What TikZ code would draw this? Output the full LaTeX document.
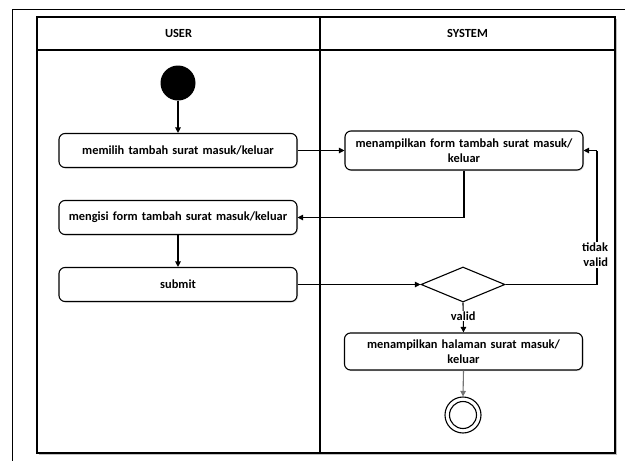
\documentclass[tikz,border=0pt]{standalone}
\usepackage{fontspec}
\setmainfont{Carlito}
\usetikzlibrary{shapes.geometric,arrows.meta,shadows}
\begin{document}
\begin{tikzpicture}[x=1pt,y=-1pt,
  font=\bfseries\fontsize{12.4}{15}\selectfont,
  flow/.style={line width=1.1pt,-{Triangle[length=5.5pt,width=5.5pt]}},
  act/.style={draw,line width=1.1pt,rounded corners=6pt,fill=white,
    minimum width=238pt,text width=236pt,inner xsep=1pt,align=center,
    drop shadow={shadow xshift=1pt,shadow yshift=-1pt,opacity=0.25}},
  dec/.style={draw,diamond,line width=1.1pt,fill=white,aspect=2.4,
    minimum width=84pt,minimum height=35pt,inner sep=0pt},
  lbl/.style={fill=white,inner sep=1pt,align=right}]
\useasboundingbox (0,0) rectangle (625,461);
% outer page frame
\draw[line width=0.7pt] (12,470) -- (12,9.5) -- (640,9.5);
% swimlanes
\fill[black!25] (39,19) rectangle (617,455);
\draw[line width=1.4pt,fill=white] (37,17) rectangle (615,453);
\draw[line width=1.4pt] (37,50) -- (615,50);
\draw[line width=1.4pt] (320,17) -- (320,453);
\node (huser) at (178.5,33.5) {USER};
\node (hsys) at (467.5,33.5) {SYSTEM};
% activities
\node[circle,fill=black,minimum size=35pt,inner sep=0pt] (start) at (178,83) {};
\node[act,minimum height=34pt] (pilih) at (178,150.5) {memilih tambah surat masuk/keluar};
\node[act,minimum height=39pt] (form) at (464,150.5) {menampilkan form tambah surat masuk/\\keluar};
\node[act,minimum height=34pt] (isi) at (178,217.5) {mengisi form tambah surat masuk/keluar};
\node[act,minimum height=34pt] (submit) at (178,284.5) {submit};
\node[dec] (cek) at (463,284.5) {};
\node[act,minimum height=37pt] (hal) at (463.5,351.5) {menampilkan halaman surat masuk/\\keluar};
\node[circle,draw,line width=1.1pt,minimum size=36pt,inner sep=0pt] (end) at (463,415) {};
\node[circle,draw,line width=1.1pt,minimum size=27pt,inner sep=0pt] (endin) at (end) {};
\coordinate (loop) at (597,284.5);
\coordinate (looptop) at (597,150.5);
% flows
\draw[flow] (start) -- (pilih);
\draw[flow] (pilih) -- (pilih -| form.west);
\draw[flow] (form.south) |- (isi.east);
\draw[flow] (isi) -- (submit);
\draw[flow] (submit) -- (cek);
\draw[line width=1.1pt] (cek.east) -- (loop) -- (looptop);
\draw[flow] (looptop) -- (form.east);
\node[lbl] (tv) at (595,255) {tidak\\valid};
\draw[flow] (cek.south) -- node[lbl,pos=0.45] (vl) {valid} (hal.north);
\draw[flow,draw=black!55] (hal.south) -- (end.north);
\end{tikzpicture}
\end{document}
